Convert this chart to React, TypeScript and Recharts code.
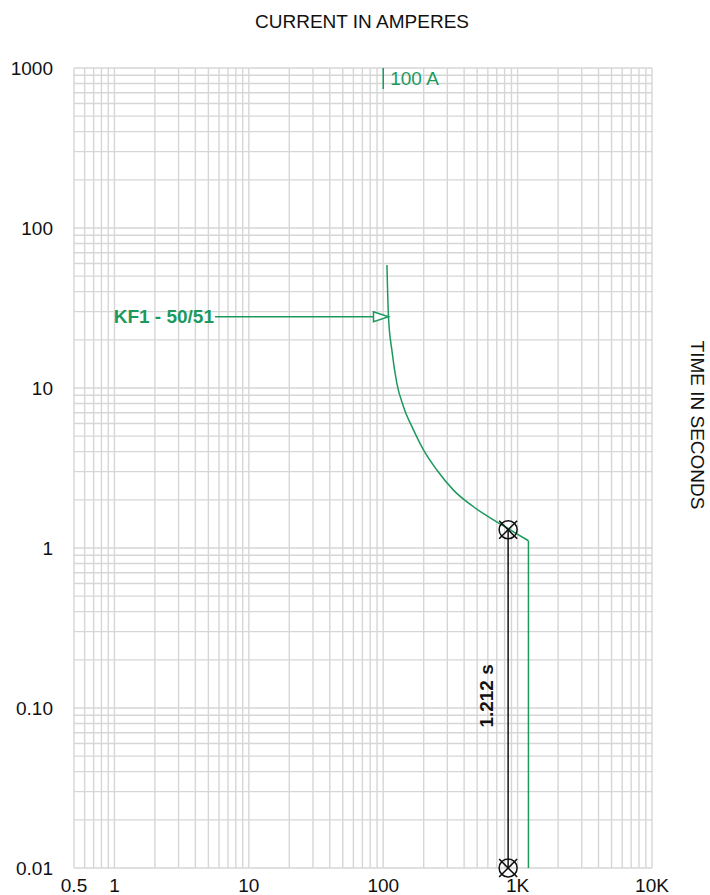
import { ComposedChart, XAxis, YAxis, Line, ReferenceLine, Scatter } from "recharts"

// axis ticks
const xTicks = [0.5, 1, 10, 100, 1000, 10000]
const xTickLabels = ["0.5", "1", "10", "100", "1K", "10K"]
const yTicks = [0.01, 0.1, 1, 10, 100, 1000]
const yTickLabels = ["0.01", "0.10", "1", "10", "100", "1000"]

// log grid: 1..9 per decade
const gridSteps = [1, 2, 3, 4, 5, 6, 7, 8, 9]
const xDecades = [0.1, 1, 10, 100, 1000, 10000]
const yDecades = [0.01, 0.1, 1, 10, 100, 1000]

// KF1 - 50/51 relay curve (amps / seconds)
const curveAmps = [106.6, 109.4, 115.9, 126.3, 141.5, 167.9, 199.3, 250.6, 333, 469, 661, 880, 1204]
const curveSecs = [58.7, 27.9, 17.3, 10.7, 7.64, 5.47, 4.1, 3.07, 2.3, 1.81, 1.5, 1.3, 1.11]
// instantaneous part
const instAmps = [1204, 1204]
const instSecs = [1.11, 0.01]

// pickup marker
const pickupAmps = [100, 100]
const pickupSecs = [1000, 740]

// tag arrow
const tagAmps = [5.6, 84.2]
const tagSecs = [27.9, 27.9]
const tagTip = { x: 109.4, y: 27.9 }

// time difference markers
const markAmps = [850, 850]
const markSecs = [1.3, 0.01]
const markLabelSecs = 0.119

const GREEN = "#1c9a5e"
const GRID = "#d6d6d6"
const FONT = "'Liberation Sans', Arial, sans-serif"
const FS = 19

const round = (v: number) => Number(v.toPrecision(6))
const xGrid = xDecades.flatMap((d) => gridSteps.map((m) => round(d * m))).filter((v) => v >= 0.5 && v <= 10000)
const yGrid = yDecades.flatMap((d) => gridSteps.map((m) => round(d * m))).filter((v) => v >= 0.01 && v <= 1000)

const zip = (xs: number[], ys: number[]) => xs.map((x, i) => ({ x, y: ys[i] }))

const curveData = zip(curveAmps, curveSecs)
const instData = zip(instAmps, instSecs)
const markData = zip(markAmps, markSecs)
const tagData = zip(tagAmps, tagSecs)

const CrossCircle = ({ cx, cy }: any) => (
    <g>
        <circle cx={cx} cy={cy} r={9} fill="none" stroke="#111" strokeWidth={1.5} />
        <line x1={cx - 9} y1={cy - 9} x2={cx + 9} y2={cy + 9} stroke="#111" strokeWidth={1.5} />
        <line x1={cx - 9} y1={cy + 9} x2={cx + 9} y2={cy - 9} stroke="#111" strokeWidth={1.5} />
    </g>
)

const ArrowHead = ({ cx, cy }: any) => (
    <path d={`M${cx - 15},${cy - 5} L${cx},${cy} L${cx - 15},${cy + 5} Z`} fill="#fff" stroke={GREEN} strokeWidth={1.5} />
)

const TagText = ({ cx, cy }: any) => (
    <text x={cx - 1} y={cy} dy="0.35em" textAnchor="end" fill={GREEN} fontSize={FS} fontWeight={700} fontFamily={FONT}>
        KF1 - 50/51
    </text>
)

const PickupText = ({ cx, cy }: any) => (
    <text x={cx + 7} y={cy} dy="0.35em" fill={GREEN} fontSize={FS} fontFamily={FONT}>
        100 A
    </text>
)

const DiffText = ({ cx, cy }: any) => (
    <text x={cx - 22} y={cy} dy="0.35em" textAnchor="middle" fill="#111" fontSize={FS} fontWeight={700} fontFamily={FONT}
        transform={`rotate(-90 ${cx - 22} ${cy})`}>
        1.212 s
    </text>
)

export default function App() {
    return (
        <div style={{ position: "absolute", left: 0, top: 0, width: 710, height: 895, background: "#fff", fontFamily: FONT }}>
            <div style={{ position: "absolute", left: 0, width: 724, top: 11, textAlign: "center", fontSize: FS, lineHeight: "22px", color: "#111" }}>
                CURRENT IN AMPERES
            </div>
            <div style={{ position: "absolute", left: 697, top: 425, transform: "translate(-50%, -50%) rotate(90deg)", whiteSpace: "nowrap", fontSize: FS, color: "#111" }}>
                TIME IN SECONDS
            </div>
            <ComposedChart width={710} height={895} margin={{ top: 68, right: 58, bottom: 0, left: 14 }}>
                <XAxis
                    dataKey="x"
                    type="number"
                    scale="log"
                    domain={[0.5, 10000]}
                    ticks={xTicks}
                    tickFormatter={(v) => xTickLabels[xTicks.indexOf(v)] ?? ""}
                    axisLine={false}
                    tickLine={false}
                    tickSize={0}
                    tickMargin={11}
                    height={27}
                    interval={0}
                    tick={{ fill: "#111", fontSize: FS, fontFamily: FONT }}
                />
                <YAxis
                    dataKey="y"
                    type="number"
                    scale="log"
                    domain={[0.01, 1000]}
                    ticks={yTicks}
                    tickFormatter={(v) => yTickLabels[yTicks.indexOf(v)] ?? ""}
                    axisLine={false}
                    tickLine={false}
                    tickSize={0}
                    tickMargin={21}
                    width={60}
                    interval={0}
                    tick={{ fill: "#111", fontSize: FS, fontFamily: FONT }}
                />
                {xGrid.map((v) => (
                    <ReferenceLine key={`gx-${v}`} x={v} stroke={GRID} strokeWidth={1.4} />
                ))}
                {yGrid.map((v) => (
                    <ReferenceLine key={`gy-${v}`} y={v} stroke={GRID} strokeWidth={1.4} />
                ))}
                <ReferenceLine
                    segment={[
                        { x: pickupAmps[0], y: pickupSecs[0] },
                        { x: pickupAmps[1], y: pickupSecs[1] },
                    ]}
                    stroke={GREEN}
                    strokeWidth={1.5}
                />
                <Line data={curveData} dataKey="y" type="monotone" stroke={GREEN} strokeWidth={1.5} dot={false} isAnimationActive={false} />
                <Line data={instData} dataKey="y" type="linear" stroke={GREEN} strokeWidth={1.5} dot={false} isAnimationActive={false} />
                <Line data={tagData} dataKey="y" type="linear" stroke={GREEN} strokeWidth={1.5} dot={false} isAnimationActive={false} />
                <Line data={markData} dataKey="y" type="linear" stroke="#111" strokeWidth={1.5} dot={false} isAnimationActive={false} />
                <Scatter data={[tagTip]} shape={<ArrowHead />} isAnimationActive={false} />
                <Scatter data={[tagData[0]]} shape={<TagText />} isAnimationActive={false} />
                <Scatter data={[{ x: pickupAmps[0], y: 860 }]} shape={<PickupText />} isAnimationActive={false} />
                <Scatter data={[{ x: markAmps[0], y: markLabelSecs }]} shape={<DiffText />} isAnimationActive={false} />
                <Scatter data={markData} shape={<CrossCircle />} isAnimationActive={false} />
            </ComposedChart>
        </div>
    )
}
